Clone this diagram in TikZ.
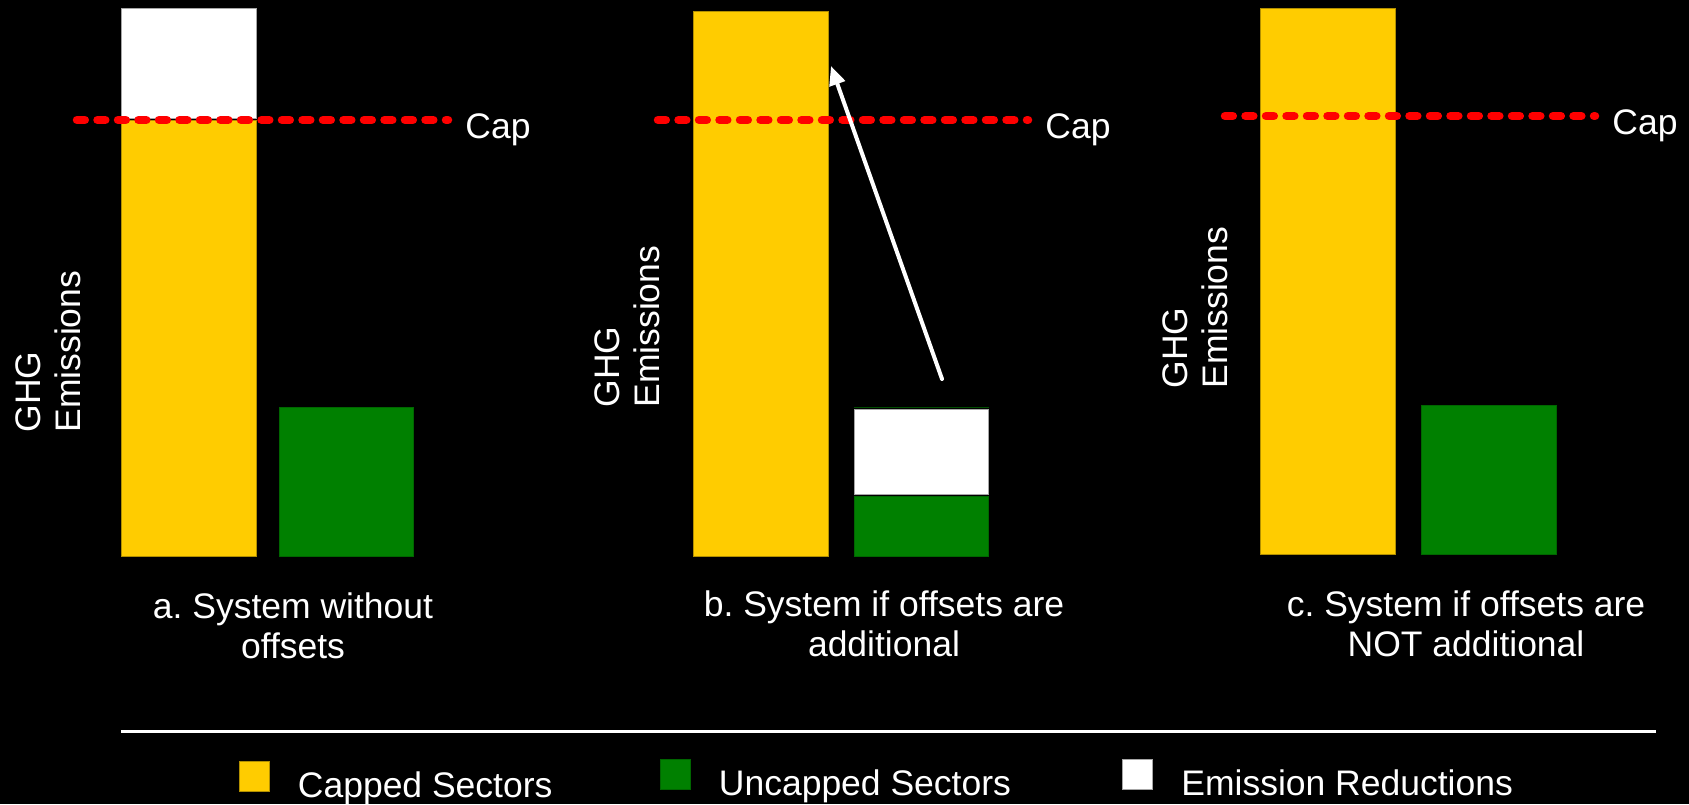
\documentclass[tikz,border=0pt]{standalone}
\usepackage{fontspec}
\setmainfont{Liberation Sans}
\usetikzlibrary{arrows.meta,positioning}
\frenchspacing

\definecolor{capyellow}{HTML}{FFCC00}
\definecolor{freegreen}{HTML}{008000}
\definecolor{capred}{HTML}{FF0000}

\begin{document}
\begin{tikzpicture}[
    x = 0.5pt, y = -0.5pt, % one unit per pixel, y runs down
    font = \fontsize{17.75}{20.25}\selectfont,
    text = white, % all labels are white
    inner sep = 0pt
    ]

    \tikzset{
    capped/.style = {fill = capyellow, draw = capyellow!70!black, line width = 0.5pt},
    uncapped/.style = {fill = freegreen, draw = freegreen!80!black, line width = 0.5pt},
    reduction/.style = {fill = white, draw = gray!70, line width = 0.5pt},
    capline/.style = {draw = capred, line width = 4.25pt, line cap = round,
        dash pattern = on 3.9pt off 6.35pt},
    offsetarrow/.style = {draw = white, line width = 2pt, line cap = round,
        -{Triangle[length = 9.5pt, width = 8pt]}},
    caplabel/.style = {right = 8.5pt of #1, anchor = base west, yshift = -9pt},
    axislabel/.style = {rotate = 90, align = left, anchor = north west},
    caption/.style = {align = center},
    key/.style = {minimum size = 15pt, line width = 0.5pt},
    keytext/.style = {right = 14pt of #1, anchor = base west, yshift = -10.5pt}
    }

    \fill[black] (0,0) rectangle (1689,804); % slide background

    % a. without offsets
    \path[reduction] (121.7,9) rectangle (256.5,118);
    \path[capped] (121.7,120) rectangle (256.5,556.8);
    \path[uncapped] (279,407) rectangle (413.6,556.8);
    \coordinate (capAl) at (77,120);
    \coordinate (capAr) at (448,120);
    \draw[capline] (capAl) -- (capAr);
    \node[caplabel = capAr] (capA) {Cap};
    \node[axislabel] (ghgA) at (15,433) {GHG\\Emissions};
    \node[caption] (sysA) at (293,626) {a. System without\\offsets};

    % b. additional offsets
    \path[capped] (693.6,11.8) rectangle (828,556.8);
    \path[uncapped] (854,496) rectangle (988.7,556.8);
    \path[reduction] (854,409.5) rectangle (988.7,494.5);
    \draw[freegreen!60!black, line width = 0.5pt] (854,407.5) -- (988.7,407.5);
    \coordinate (capBl) at (658,120);
    \coordinate (capBr) at (1028,120);
    \draw[capline] (capBl) -- (capBr);
    \node[caplabel = capBr] (capB) {Cap};
    \node[axislabel] (ghgB) at (594,408) {GHG\\Emissions};
    \node[caption] (sysB) at (884,624) {b. System if offsets are\\additional};
    \coordinate (shiftFrom) at (942,379);
    \coordinate (shiftTo) at (831,66);
    \draw[offsetarrow] (shiftFrom) -- (shiftTo);

    % c. offsets not additional
    \path[capped] (1260.5,8.6) rectangle (1395.5,554.6);
    \path[uncapped] (1421.5,405) rectangle (1556,554.6);
    \coordinate (capCl) at (1225,116);
    \coordinate (capCr) at (1595,116);
    \draw[capline] (capCl) -- (capCr);
    \node[caplabel = capCr] (capC) {Cap};
    \node[axislabel] (ghgC) at (1162,389) {GHG\\Emissions};
    \node[caption] (sysC) at (1466,624) {c. System if offsets are\\NOT additional};

    % legend
    \coordinate (ruleL) at (121,731);
    \coordinate (ruleR) at (1656,731);
    \draw[white, line width = 1.5pt] (ruleL) -- (ruleR);
    \node[key, fill = capyellow, draw = capyellow!70!black] (keyCap) at (254,776) {};
    \node[keytext = keyCap] (txtCap) {Capped Sectors};
    \node[key, fill = freegreen, draw = freegreen!80!black] (keyFree) at (675,774) {};
    \node[keytext = keyFree] (txtFree) {Uncapped Sectors};
    \node[key, fill = white, draw = gray!70] (keyCut) at (1137.5,774) {};
    \node[keytext = keyCut] (txtCut) {Emission Reductions};
\end{tikzpicture}
\end{document}
